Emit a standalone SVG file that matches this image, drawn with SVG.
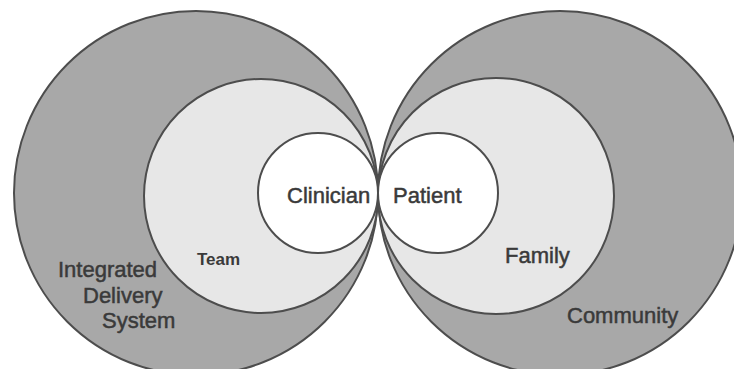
<svg xmlns="http://www.w3.org/2000/svg" width="734" height="369" viewBox="0 0 734 369">
<style>
.outer{fill:#a8a8a8;stroke:#4d4d4d;stroke-width:2}
.mid{fill:#e7e7e7;stroke:#4d4d4d;stroke-width:2}
.inner{fill:#ffffff;stroke:#4d4d4d;stroke-width:2}
text{font-family:"Liberation Sans",Arial,sans-serif;font-size:22px;fill:#3a3a3a;stroke:#3a3a3a;stroke-width:0.5}
.small{font-size:17px;font-weight:bold;stroke-width:0}
</style>
<rect width="734" height="369" fill="#ffffff"/>
<g id="integrated-delivery-system">
<circle class="outer" cx="196" cy="193" r="182"/>
<text x="58" y="277">Integrated</text>
<text x="83" y="303">Delivery</text>
<text x="102" y="328">System</text>
</g>
<g id="community">
<circle class="outer" cx="560" cy="193" r="182"/>
<text x="567" y="323">Community</text>
</g>
<g id="team">
<circle class="mid" cx="261" cy="196" r="117"/>
<text class="small" x="197" y="265">Team</text>
</g>
<g id="family">
<circle class="mid" cx="496" cy="196" r="118"/>
<text x="505" y="263">Family</text>
</g>
<g id="clinician">
<circle class="inner" cx="318" cy="193" r="60"/>
<text x="287" y="203">Clinician</text>
</g>
<g id="patient">
<circle class="inner" cx="438" cy="193" r="60"/>
<text x="393" y="203">Patient</text>
</g>
<g id="connectors"/>
</svg>
